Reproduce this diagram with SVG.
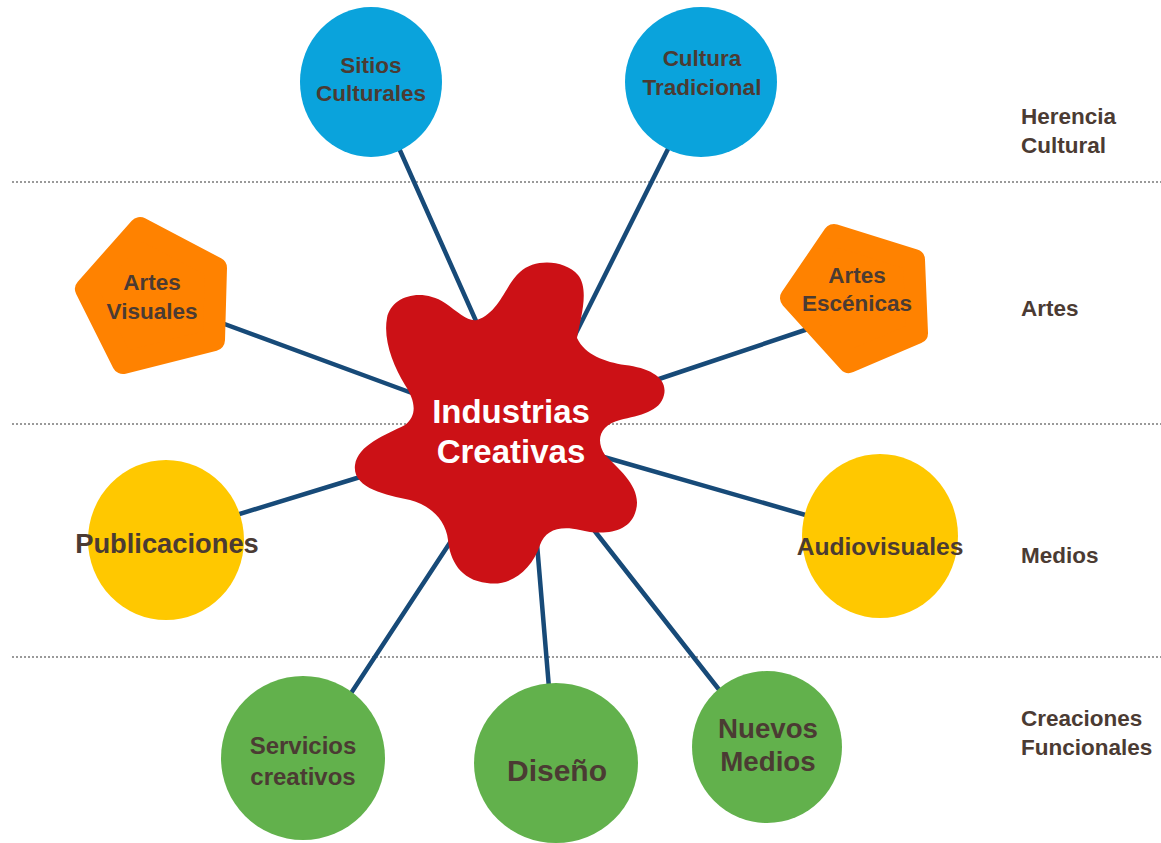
<svg xmlns="http://www.w3.org/2000/svg" width="1161" height="843" viewBox="0 0 1161 843">
<style>
.dot{stroke:#9a9a9a;stroke-width:2;stroke-dasharray:2 2;fill:none}
.con{stroke:#174a78;stroke-width:4.5;fill:none;stroke-linecap:round}
.t{font-family:"Liberation Sans",Arial,sans-serif;font-weight:bold;fill:#4b3b33;text-anchor:middle}
.lbl{font-family:"Liberation Sans",Arial,sans-serif;font-weight:bold;fill:#4b3b33;font-size:22.5px}
.blue{fill:#0aa3dc}
.orange{fill:#ff8200;stroke:#ff8200;stroke-width:22;stroke-linejoin:round}
.yellow{fill:#ffc800}
.green{fill:#62b14c}
</style>
<rect width="1161" height="843" fill="#ffffff"/>
<g id="bands">
<line class="dot" x1="12" y1="182" x2="1161" y2="182"/>
<line class="dot" x1="12" y1="424" x2="1161" y2="424"/>
<line class="dot" x1="12" y1="657" x2="1161" y2="657"/>
<text class="lbl" x="1021" y="124">Herencia</text>
<text class="lbl" x="1021" y="153">Cultural</text>
<text class="lbl" x="1021" y="316">Artes</text>
<text class="lbl" x="1021" y="563">Medios</text>
<text class="lbl" x="1021" y="726">Creaciones</text>
<text class="lbl" x="1021" y="755">Funcionales</text>
</g>
<g id="connectors">
<line class="con" x1="390" y1="128" x2="480" y2="330"/>
<line class="con" x1="680" y1="125" x2="570" y2="345"/>
<line class="con" x1="200" y1="315" x2="420" y2="396"/>
<line class="con" x1="820" y1="325" x2="650" y2="382"/>
<line class="con" x1="220" y1="520" x2="370" y2="474"/>
<line class="con" x1="830" y1="522" x2="590" y2="453"/>
<line class="con" x1="340" y1="710" x2="455" y2="535"/>
<line class="con" x1="550" y1="700" x2="535" y2="520"/>
<line class="con" x1="735" y1="710" x2="590" y2="525"/>
</g>
<g id="sitios">
<ellipse class="blue" cx="371" cy="82" rx="71" ry="75"/>
<text class="t" x="371" y="73" font-size="22.5">Sitios</text>
<text class="t" x="371" y="101" font-size="22.5">Culturales</text>
</g>
<g id="cultura">
<ellipse class="blue" cx="701" cy="82" rx="76" ry="75"/>
<text class="t" x="702" y="66" font-size="22.5">Cultura</text>
<text class="t" x="702" y="95" font-size="22.5">Tradicional</text>
</g>
<g id="artes-visuales">
<polygon class="orange" points="140,228 216,268 214,340 123,363 86,289"/>
<text class="t" x="152" y="290" font-size="22.5">Artes</text>
<text class="t" x="152" y="319" font-size="22.5">Visuales</text>
</g>
<g id="artes-escenicas">
<polygon class="orange" points="834,235 914,260 917,333 849,362 791,298"/>
<text class="t" x="857" y="283" font-size="22.5">Artes</text>
<text class="t" x="857" y="311" font-size="22.5">Escénicas</text>
</g>
<g id="publicaciones">
<ellipse class="yellow" cx="166" cy="540" rx="78" ry="80"/>
<text class="t" x="167" y="553" font-size="27.3">Publicaciones</text>
</g>
<g id="audiovisuales">
<ellipse class="yellow" cx="880" cy="536" rx="78" ry="82"/>
<text class="t" x="880" y="555" font-size="24.6">Audiovisuales</text>
</g>
<g id="servicios">
<ellipse class="green" cx="303" cy="758" rx="82" ry="82"/>
<text class="t" x="303" y="754" font-size="24">Servicios</text>
<text class="t" x="303" y="785" font-size="24">creativos</text>
</g>
<g id="diseno">
<ellipse class="green" cx="556" cy="763" rx="82" ry="80"/>
<text class="t" x="557" y="781" font-size="30">Diseño</text>
</g>
<g id="nuevos">
<ellipse class="green" cx="767" cy="747" rx="75" ry="76"/>
<text class="t" x="768" y="738" font-size="27.7">Nuevos</text>
<text class="t" x="768" y="771" font-size="27.7">Medios</text>
</g>
<g id="industrias">
<path fill="#cc1116" d="M 477 320 C 500 312, 505 285, 520 272 C 535 258, 565 260, 578 275 C 590 290, 580 320, 577 338 C 585 355, 605 362, 625 365 C 650 368, 668 378, 664 395 C 660 412, 640 415, 620 420 C 600 425, 595 440, 605 455 C 620 470, 642 488, 636 510 C 630 535, 600 535, 580 530 C 560 525, 545 530, 540 545 C 532 570, 510 587, 487 583 C 460 580, 450 560, 448 540 C 446 520, 430 505, 410 500 C 385 495, 352 488, 355 465 C 358 445, 385 435, 405 425 C 418 415, 415 400, 405 385 C 393 365, 383 340, 387 318 C 391 297, 420 287, 445 303 C 458 312, 468 322, 477 320 Z"/>
<text x="511" y="423" font-family="Liberation Sans, Arial, sans-serif" font-weight="bold" font-size="33" fill="#ffffff" text-anchor="middle">Industrias</text>
<text x="511" y="463" font-family="Liberation Sans, Arial, sans-serif" font-weight="bold" font-size="33" fill="#ffffff" text-anchor="middle">Creativas</text>
</g>
</svg>
